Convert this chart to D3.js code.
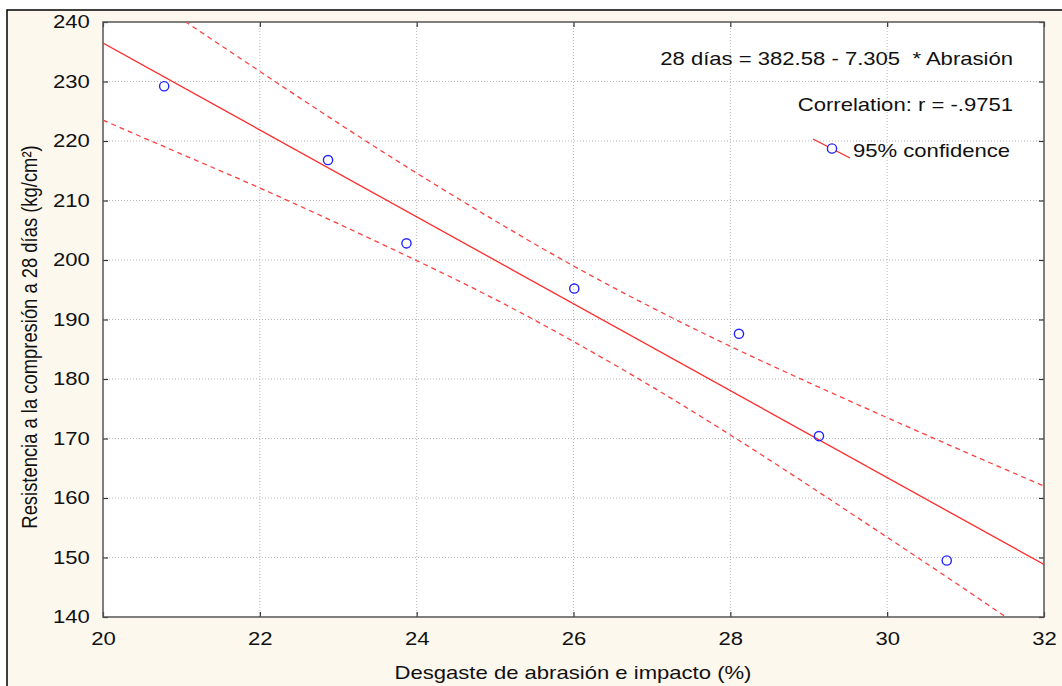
<!DOCTYPE html>
<html>
<head>
<meta charset="utf-8">
<script src="https://cdn.jsdelivr.net/npm/d3@7"></script>
<style>
  body { margin: 0; background: #fff; }
  svg text { font-family: "Liberation Sans", Arial, sans-serif; fill: #111; }
</style>
</head>
<body>
<div id="graph"></div>
<script>
// data
var abrasion    = [20.78, 22.87, 23.87, 26.01, 28.11, 29.13, 30.76];
var resistencia = [229.2, 216.8, 202.8, 195.2, 187.6, 170.4, 149.5];

// fitted line, 28 días = 382.58 - 7.305 * Abrasión
var fitX = [20, 32];
var fitY = [236.48, 148.82];

// 95% confidence band, read at each unit of x
var bandX     = [20, 21, 22, 23, 24, 25, 26, 27, 28, 29, 30, 31, 32];
var bandUpper = [249.4, 240.5, 231.7, 223.0, 214.6, 206.6, 199.0, 192.0, 185.5, 179.4, 173.5, 167.7, 162.0];
var bandLower = [223.5, 217.8, 212.1, 206.1, 199.9, 193.4, 186.3, 178.7, 170.6, 162.1, 153.4, 144.6, 135.6];

var xTicks = [20, 22, 24, 26, 28, 30, 32];
var yTicks = [140, 150, 160, 170, 180, 190, 200, 210, 220, 230, 240];

var eqText   = "28 días = 382.58 - 7.305  * Abrasión";
var corrText = "Correlation: r = -.9751";
var legText  = "95% confidence";
var xTitle   = "Desgaste de abrasión e impacto (%)";
var yTitle   = "Resistencia a la compresión a 28 días (kg/cm²)";

var W = 1062, H = 686;
var margin = {top: 22, right: 18, bottom: 69, left: 103};
var width = W - margin.left - margin.right,
    height = H - margin.top - margin.bottom;
var sx = 1.2;    // the original is stretched a bit sideways
var fs = 18.4;   // font size

var svg = d3.select("#graph").append("svg")
    .attr("width", W).attr("height", H);

// cream frame
svg.append("rect").attr("x", 7).attr("y", 10).attr("width", W).attr("height", H)
    .attr("fill", "#fdf8ee");
svg.append("path").attr("d", "M7," + H + "V10H" + W)
    .attr("fill", "none").attr("stroke", "#000").attr("stroke-width", 1.5);

var x = d3.scaleLinear().domain([20, 32]).range([0, width]);
var y = d3.scaleLinear().domain([140, 240]).range([height, 0]);

var g = svg.append("g").attr("transform", "translate(" + margin.left + "," + margin.top + ")");

g.append("rect").attr("width", width).attr("height", height).attr("fill", "#fff");

g.append("clipPath").attr("id", "clip")
  .append("rect").attr("width", width).attr("height", height);

// grid
g.append("g").selectAll("line").data(xTicks.slice(1, -1)).join("line")
    .attr("x1", d => x(d)).attr("x2", d => x(d))
    .attr("y1", 0).attr("y2", height)
    .attr("stroke", "#b8b8b8").attr("stroke-dasharray", "1,2");
g.append("g").selectAll("line").data(yTicks.slice(1, -1)).join("line")
    .attr("y1", d => y(d)).attr("y2", d => y(d))
    .attr("x1", 0).attr("x2", width)
    .attr("stroke", "#b8b8b8").attr("stroke-dasharray", "1,2");

// axes, ticks pointing inwards
var ax = g.append("g").attr("transform", "translate(0," + height + ")")
    .call(d3.axisBottom(x).tickValues(xTicks).tickSize(-5).tickPadding(15).tickSizeOuter(0));
var ay = g.append("g")
    .call(d3.axisLeft(y).tickValues(yTicks).tickSize(-5).tickPadding(11).tickSizeOuter(0));
g.append("g").attr("transform", "translate(" + width + ",0)")
    .call(d3.axisRight(y).tickValues(yTicks).tickSize(-5).tickSizeOuter(0).tickFormat(""));
g.append("g")
    .call(d3.axisTop(x).tickValues(xTicks).tickSize(-5).tickSizeOuter(0).tickFormat(""));

g.selectAll(".domain").remove();
g.selectAll(".tick line").attr("stroke", "#333").attr("stroke-width", 1.2);
[ax, ay].forEach(function(a) {
    a.selectAll("text")
        .attr("font-size", fs)
        .attr("font-family", "Liberation Sans, Arial, sans-serif")
        .attr("fill", "#111")
        .attr("transform", "scale(" + sx + ",1)");
});
ax.selectAll("text").attr("x", 0);

// plot border
g.append("rect").attr("width", width).attr("height", height)
    .attr("fill", "none").attr("stroke", "#555").attr("stroke-width", 1.5);

var band = d3.line()
    .x((d, i) => x(bandX[i]))
    .y(d => y(d))
    .curve(d3.curveNatural);

var plot = g.append("g").attr("clip-path", "url(#clip)");

[bandUpper, bandLower].forEach(function(b) {
    plot.append("path").datum(b)
        .attr("d", band)
        .attr("fill", "none")
        .attr("stroke", "#ff4040")
        .attr("stroke-width", 1.3)
        .attr("stroke-dasharray", "5,4");
});

plot.append("path").datum(fitY)
    .attr("d", d3.line().x((d, i) => x(fitX[i])).y(d => y(d)))
    .attr("fill", "none").attr("stroke", "#ff2a2a").attr("stroke-width", 1.3);

plot.selectAll("circle").data(abrasion).join("circle")
    .attr("cx", d => x(d))
    .attr("cy", (d, i) => y(resistencia[i]))
    .attr("r", 4.6)
    .attr("fill", "none").attr("stroke", "#2323ff").attr("stroke-width", 1.4);

// annotation texts
function label(txt, px, py, anchor) {
    return svg.append("text")
        .attr("transform", "translate(" + px + "," + py + ") scale(" + sx + ",1)")
        .attr("text-anchor", anchor)
        .attr("font-size", fs)
        .style("white-space", "pre")
        .text(txt);
}
label(eqText, 1013, 65, "end");
label(corrText, 1013, 111, "end");
label(legText, 853, 157, "start");

// legend key
svg.append("line").attr("x1", 813).attr("y1", 139).attr("x2", 850).attr("y2", 158)
    .attr("stroke", "#ff2a2a").attr("stroke-width", 1.3);
svg.append("circle").attr("cx", 832).attr("cy", 148.5).attr("r", 4.6)
    .attr("fill", "#fff").attr("stroke", "#2323ff").attr("stroke-width", 1.4);

// axis titles
label(xTitle, 573, 679, "middle");
svg.append("text")
    .attr("transform", "translate(37,337) scale(" + sx + ",1) rotate(-90)")
    .attr("text-anchor", "middle")
    .attr("font-size", fs)
    .text(yTitle);
</script>
</body>
</html>
